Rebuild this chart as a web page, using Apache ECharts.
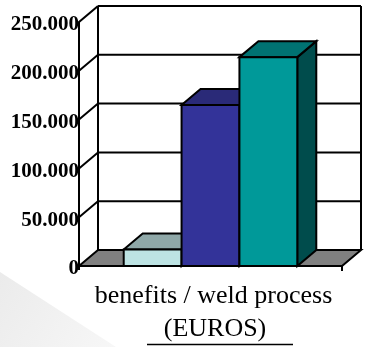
<!DOCTYPE html>
<html>
<head>
<meta charset="utf-8">
<script src="https://cdn.jsdelivr.net/npm/echarts@6/dist/echarts.min.js"></script>
<style>
  html, body { margin: 0; padding: 0; background: #ffffff; }
  #chart { width: 365px; height: 347px; }
</style>
</head>
<body>
<div id="chart"></div>
<script>
// Benefits per weld process, in euros
const categories = ['benefits / weld process'];
const benefits = [17000, 165000, 214000];
const yTicks = [0, 50000, 100000, 150000, 200000, 250000];
const unitLabel = '(EUROS)';

// face colours per bar: front, top, side
const barColors = [
  { front: '#bde3e3', top: '#8fa8a8', side: '#6e8c8c' },
  { front: '#333399', top: '#2a2a78', side: '#202060' },
  { front: '#009999', top: '#007272', side: '#004c4c' }
];

// 3D depth offset of the box
const DX = 19, DY = -16;
const BAR_FRACTION = 0.22;

function fmtTick(v) {
  return v === 0 ? '0' : (v / 1000) + '.000';
}

const line = (x1, y1, x2, y2, w) => ({
  type: 'line',
  shape: { x1, y1, x2, y2 },
  style: { stroke: '#000', lineWidth: w || 2 }
});

function renderFrame(params, api) {
  const cs = params.coordSys;
  const v = api.value(1);
  const yf = api.coord([0, v])[1];
  const yb = yf + DY;
  const xl = cs.x, xr = cs.x + cs.width;
  const children = [];
  if (v === 0) {
    const yTop = api.coord([0, yTicks[yTicks.length - 1]])[1] + DY;
    children.push(line(xl + DX, yb, xl + DX, yTop));
    children.push(line(xr + DX, yb, xr + DX, yTop));
    children.push({
      type: 'polygon',
      shape: { points: [[xl, yf], [xr, yf], [xr + DX, yb], [xl + DX, yb]] },
      style: { fill: '#808080', stroke: '#000', lineWidth: 2, lineJoin: 'miter' }
    });
    children.push(line(xl, yf, xl, yf + 4));
    children.push(line(xr, yf, xr, yf + 5));
  } else {
    children.push(line(xl + DX, yb, xr + DX, yb));
    children.push(line(xl, yf, xl + DX, yb));
  }
  return { type: 'group', children };
}

function renderBar(params, api) {
  const idx = api.value(2);
  const base = api.coord([0, 0]);
  const top = api.coord([0, api.value(1)]);
  const band = api.size([1, 0])[0];
  const w = band * BAR_FRACTION;
  const x0 = base[0] + (idx - 1) * w - w / 2;
  const x1 = x0 + w;
  const y0 = top[1], yBase = base[1];
  const c = barColors[idx];
  const st = (fill) => ({ fill, stroke: '#000', lineWidth: 2, lineJoin: 'miter' });
  return {
    type: 'group',
    children: [
      { type: 'polygon', shape: { points: [[x1, y0], [x1 + DX, y0 + DY], [x1 + DX, yBase + DY], [x1, yBase]] }, style: st(c.side) },
      { type: 'polygon', shape: { points: [[x0, y0], [x0 + DX, y0 + DY], [x1 + DX, y0 + DY], [x1, y0]] }, style: st(c.top) },
      { type: 'rect', shape: { x: x0, y: y0, width: w, height: yBase - y0 }, style: st(c.front) }
    ]
  };
}

const chart = echarts.init(document.getElementById('chart'), null, { renderer: 'canvas' });
chart.setOption({
  animation: false,
  backgroundColor: '#ffffff',
  grid: { left: 79, right: 23, top: 22, bottom: 81, containLabel: false },
  xAxis: {
    type: 'category',
    data: categories,
    axisLine: { show: false },
    axisTick: { show: false },
    axisLabel: {
      margin: 17,
      padding: [0, 0, 0, 6],
      color: '#000',
      fontFamily: 'Liberation Serif',
      fontSize: 26
    }
  },
  yAxis: {
    type: 'value',
    min: 0,
    max: 250000,
    interval: 50000,
    splitLine: { show: false },
    axisTick: { show: false },
    axisLine: { show: true, lineStyle: { color: '#000', width: 2 } },
    axisLabel: {
      margin: 0,
      verticalAlign: 'top',
      lineHeight: 6,
      color: '#000',
      fontFamily: 'Liberation Serif',
      fontWeight: 'bold',
      fontSize: 21,
      formatter: fmtTick
    }
  },
  graphic: [
    {
      type: 'polygon', z: -10, silent: true,
      shape: { points: [[0, 272], [116, 347], [0, 347]] },
      style: { fill: new echarts.graphic.LinearGradient(0, 0, 1, 1, [
        { offset: 0, color: '#ebebeb' }, { offset: 1, color: '#f7f7f7' }
      ]) }
    },
    {
      type: 'text', silent: true,
      style: {
        text: unitLabel, fill: '#000', font: '26px "Liberation Serif"',
        x: 215, y: 329, align: 'center', verticalAlign: 'middle'
      }
    },
    {
      type: 'line', silent: true,
      shape: { x1: 147, y1: 344.5, x2: 293, y2: 344.5 },
      style: { stroke: '#000', lineWidth: 1.5 }
    }
  ],
  series: [
    {
      type: 'custom',
      coordinateSystem: 'cartesian2d',
      renderItem: renderFrame,
      data: yTicks.map(v => [0, v]),
      z: 1,
      silent: true
    },
    {
      type: 'custom',
      coordinateSystem: 'cartesian2d',
      renderItem: renderBar,
      data: benefits.map((v, i) => [0, v, i]),
      z: 3,
      silent: true
    }
  ]
});
</script>
</body>
</html>
